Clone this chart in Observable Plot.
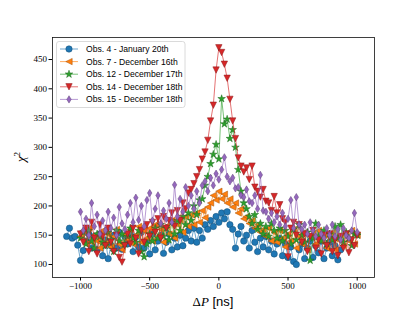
<!DOCTYPE html>
<html><head><meta charset="utf-8">
<script src="https://cdn.jsdelivr.net/npm/d3@7"></script>
<script src="https://cdn.jsdelivr.net/npm/@observablehq/plot@0.6"></script>
<style>body{margin:0;background:#fff}#chart{width:415px;height:312px}</style>
</head><body><div id="chart"></div>
<script>
const step = 20;
const seriesNames = ["Obs. 4 - January 20th","Obs. 7 - December 16th","Obs. 12 - December 17th","Obs. 14 - December 18th","Obs. 15 - December 18th"];
const seriesStarts = [-1100,-1000,-1000,-1000,-1000];
const seriesColors = ["#1f77b4","#ff7f0e","#2ca02c","#d62728","#9467bd"];
const xTicks = [-1000,-500,0,500,1000];
const yTicks = [100,150,200,250,300,350,400,450];

const obs4 = [148,162,145,148,133,107,124,140,152,128,
 148,125,152,115,142,110,132,150,128,155,
 126,148,135,152,122,147,130,155,128,140,
 118,152,125,140,150,119,138,152,125,145,
 130,150,132,145,158,140,162,138,158,145,
 168,160,175,165,182,172,188,178,190,168,
 160,128,152,165,140,150,128,158,138,122,
 145,130,148,125,140,118,135,145,115,135,
 112,130,105,100,125,135,110,128,140,112,
 132,120,140,110,128,138,115,132,108,125];
const obs7 = [148,158,135,162,138,150,140,128,158,136,
 152,130,148,160,135,125,152,142,160,135,
 150,165,138,158,145,162,140,168,148,160,
 138,165,152,175,145,168,176,155,182,165,
 185,168,188,172,192,180,198,205,218,210,
 225,212,220,205,212,198,205,188,195,178,
 182,170,175,162,168,155,160,148,162,140,
 155,138,158,145,130,152,140,160,128,148,
 135,155,125,148,152,135,158,140,150,128,
 148,155,125,142,150,132,152,140,158,135,
 150];
const obs12 = [145,155,135,158,140,128,152,148,138,132,
 155,142,122,158,140,152,135,148,162,145,
 138,158,122,113,135,152,140,162,145,168,
 148,162,142,172,152,175,158,182,168,188,
 175,200,185,210,212,235,250,272,288,305,
 280,383,340,348,315,330,300,262,225,205,
 195,182,170,185,160,170,152,165,148,170,
 158,145,162,140,158,148,135,160,142,168,
 150,138,155,107,145,170,148,140,158,135,
 152,142,165,145,168,138,155,145,132,152,
 150];
const obs14 = [152,138,162,122,172,145,118,168,148,132,
 162,138,122,150,112,104,132,152,135,162,
 145,118,158,138,168,148,172,155,178,145,
 182,162,175,188,165,192,175,205,195,222,
 228,238,250,262,280,292,312,345,372,432,
 470,462,442,418,382,345,315,282,268,258,
 265,245,268,232,225,215,228,208,205,192,
 216,188,202,178,172,113,162,172,150,168,
 138,152,122,148,158,128,142,118,150,132,
 152,122,142,115,148,128,152,120,142,132,
 150];
const obs15 = [190,158,178,150,205,165,185,152,175,158,
 190,162,180,150,198,170,160,185,205,172,
 214,176,200,165,210,222,175,195,218,170,
 192,178,205,172,236,182,212,190,232,200,
 218,195,225,205,235,242,225,248,235,255,
 245,262,283,250,242,248,230,232,218,215,
 228,208,205,218,195,253,192,190,178,188,
 172,182,168,188,165,178,210,162,215,168,
 160,168,152,172,158,148,168,152,145,162,
 150,168,148,160,142,162,150,145,158,188,
 155];
const seriesValues = [obs4, obs7, obs12, obs14, obs15];

const rad = s => Math.sqrt(s / Math.PI);
const symCircle = {draw(c, s){const r = rad(s); c.moveTo(r,0); c.arc(0,0,r,0,2*Math.PI); c.closePath();}};
const symLeft = {draw(c, s){const r = rad(s); c.moveTo(-r,0); c.lineTo(r,-r); c.lineTo(r,r); c.closePath();}};
const symStar = {draw(c, s){const R = rad(s)*1.25, ri = R*0.382; for(let i=0;i<10;i++){const a = -Math.PI/2 + i*Math.PI/5; const rr = i%2?ri:R; const px = rr*Math.cos(a), py = rr*Math.sin(a); if(i===0) c.moveTo(px,py); else c.lineTo(px,py);} c.closePath();}};
const symDown = {draw(c, s){const r = rad(s); c.moveTo(0,r); c.lineTo(-r,-r); c.lineTo(r,-r); c.closePath();}};
const symThinDiamond = {draw(c, s){const r = rad(s)*1.15; c.moveTo(0,-r); c.lineTo(0.6*r,0); c.lineTo(0,r); c.lineTo(-0.6*r,0); c.closePath();}};
const symbols = [symCircle, symLeft, symStar, symDown, symThinDiamond];
const markerR = 3.2;

const rows = [];
seriesValues.forEach((vals, k) => vals.forEach((v, i) => rows.push({k, x: seriesStarts[k] + i*step, y: v})));

const fmt = d => d < 0 ? "\u2212" + Math.abs(d) : String(d);
const marks = [];
seriesNames.forEach((name, k) => {
  const d = rows.filter(r => r.k === k);
  const col = seriesColors[k];
  const edge = d3.color(col).darker(1.2).formatHex();
  marks.push(Plot.line(d, {x: "x", y: "y", stroke: col, strokeWidth: 1, strokeOpacity: 0.65}));
  marks.push(Plot.dot(d, {x: "x", y: "y", symbol: symbols[k], r: markerR, fill: col, stroke: edge, strokeWidth: 0.5}));
});
marks.push(Plot.frame({stroke: "#111", strokeWidth: 0.8}));
marks.push(Plot.axisX({ticks: xTicks, tickFormat: fmt, tickSize: 3.5, tickPadding: 2, label: null}));
marks.push(Plot.axisY({ticks: yTicks, tickFormat: fmt, tickSize: 3.5, tickPadding: 2, label: null}));

const plot = Plot.plot({
  width: 415, height: 312,
  marginLeft: 52, marginRight: 41, marginTop: 37, marginBottom: 35,
  x: {domain: [-1202.4, 1125]},
  y: {domain: [77.8, 487.6]},
  style: {fontFamily: "Liberation Serif", fontSize: "9px", background: "#fff", color: "#000"},
  marks
});

const svg = d3.select(plot);
const lg = svg.append("g");
lg.append("rect").attr("x", 56.5).attr("y", 41.5).attr("width", 128.5).attr("height", 66)
  .attr("rx", 2.5).attr("fill", "#fff").attr("fill-opacity", 0.8).attr("stroke", "#d0d0d0").attr("stroke-width", 0.8);
seriesNames.forEach((n, k) => {
  const cy = 49 + k*12.6;
  const col = seriesColors[k];
  lg.append("line").attr("x1", 60).attr("x2", 78).attr("y1", cy).attr("y2", cy)
    .attr("stroke", col).attr("stroke-width", 1).attr("stroke-opacity", 0.65);
  lg.append("path").attr("d", d3.symbol(symbols[k], Math.PI*markerR*markerR)())
    .attr("transform", `translate(69,${cy})`).attr("fill", col)
    .attr("stroke", d3.color(col).darker(1.2).formatHex()).attr("stroke-width", 0.5);
  lg.append("text").attr("x", 86).attr("y", cy).attr("dy", "0.35em").attr("text-anchor", "start")
    .attr("font-family", "Liberation Sans").attr("font-size", "8.6px").attr("fill", "#000").text(n);
});
const xl = svg.append("text").attr("x", 213).attr("y", 305.5).attr("text-anchor", "middle")
  .attr("font-size", "13px").attr("fill", "#000");
xl.append("tspan").attr("font-family", "Liberation Serif").text("\u0394");
xl.append("tspan").attr("font-family", "Liberation Serif").attr("font-style", "italic").text("P");
xl.append("tspan").attr("font-family", "Liberation Sans").text(" [ns]");
const yl = svg.append("text").attr("transform", "translate(25,157) rotate(-90)").attr("text-anchor", "middle")
  .attr("font-size", "13px").attr("fill", "#000").attr("font-family", "Liberation Serif");
yl.append("tspan").attr("font-style", "italic").text("\u03C7");
yl.append("tspan").attr("font-size", "9px").attr("dy", "-5").text("2");

document.getElementById("chart").appendChild(plot);
</script></body></html>
